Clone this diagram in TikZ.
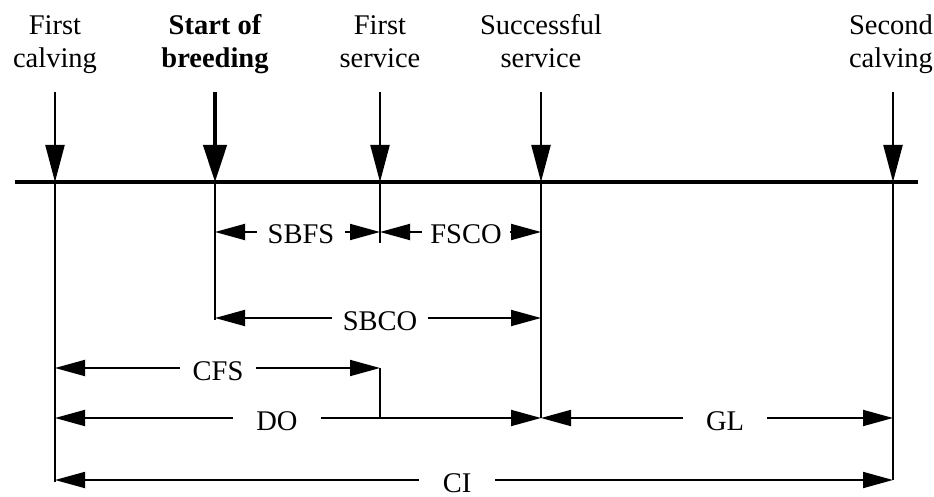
\documentclass[tikz,border=0pt]{standalone}
\usepackage{fontspec}
\setmainfont{Liberation Serif}
\usetikzlibrary{arrows.meta}
\begin{document}
\begin{tikzpicture}[x=1pt,y=-1pt,
  toplbl/.style={font=\fontsize{28.5}{33}\selectfont, align=center, inner sep=0pt, anchor=base},
  dimlbl/.style={font=\fontsize{28.5}{33}\selectfont, fill=white, inner ysep=3pt, inner xsep=11pt},
  evarrow/.style={line width=2.2pt, -{Triangle[length=37pt,width=19pt]}},
  bigarrow/.style={line width=4.5pt, -{Triangle[length=37pt,width=23pt]}},
  dim/.style={line width=1.8pt, {Triangle[length=30pt,width=16pt]}-{Triangle[length=30pt,width=16pt]}},
  vline/.style={line width=1.8pt},
  axis/.style={line width=4pt}]
\useasboundingbox (0,0) rectangle (934,497);

% event coordinates on the time axis
\coordinate (b1) at (55,182);
\coordinate (b2) at (215,182);
\coordinate (b3) at (380,182);
\coordinate (b4) at (541,182);
\coordinate (b5) at (893,182);
\coordinate (a0) at (15,182);
\coordinate (a6) at (918,182);

% arrow starts
\coordinate (t1) at (55,92);
\coordinate (t2) at (215,92);
\coordinate (t3) at (380,92);
\coordinate (t4) at (541,92);
\coordinate (t5) at (893,92);

% event labels
\node[toplbl] (n1) at (55,68) {First\\calving};
\node[toplbl, font=\fontsize{28.5}{33}\selectfont\bfseries] (n2) at (215,68) {Start of\\breeding};
\node[toplbl] (n3) at (380,68) {First\\service};
\node[toplbl] (n4) at (541,68) {Successful\\service};
\node[toplbl] (n5) at (891,68) {Second\\calving};

% time axis
\draw[axis] (a0) -- (a6);

% event arrows
\draw[evarrow] (t1) -- (b1);
\draw[bigarrow] (t2) -- (b2);
\draw[evarrow] (t3) -- (b3);
\draw[evarrow] (t4) -- (b4);
\draw[evarrow] (t5) -- (b5);

% lower ends of vertical lines
\coordinate (v1) at (55,482);
\coordinate (v2) at (215,320);
\coordinate (v3) at (380,243);
\coordinate (v4) at (541,418);
\coordinate (v5) at (893,480);

\draw[vline] (b1) -- (v1);
\draw[vline] (b2) -- (v2);
\draw[vline] (b3) -- (v3);
\draw[vline] (b4) -- (v4);
\draw[vline] (b5) -- (v5);

% dimension line end points
\coordinate (sbfsL) at (215,232);
\coordinate (sbfsR) at (380,232);
\coordinate (fscoR) at (541,232);
\coordinate (sbcoL) at (215,318);
\coordinate (sbcoR) at (541,318);
\coordinate (cfsL) at (55,368);
\coordinate (cfsR) at (380,368);
\coordinate (doL) at (55,418);
\coordinate (doR) at (541,418);
\coordinate (cfsJ) at (380,418);
\coordinate (glR) at (893,418);
\coordinate (ciL) at (55,480);
\coordinate (ciR) at (893,480);

\draw[dim] (sbfsL) -- (sbfsR);
\draw[dim] (sbfsR) -- (fscoR);
\draw[dim] (sbcoL) -- (sbcoR);
\draw[dim] (cfsL) -- (cfsR);
\draw[vline] (cfsR) -- (cfsJ);
\draw[dim] (doL) -- (doR);
\draw[dim] (doR) -- (glR);
\draw[dim] (ciL) -- (ciR);

% dimension labels
\node[dimlbl] (lsbfs) at (301,234) {SBFS};
\node[dimlbl, inner xsep=8pt] (lfsco) at (466,234) {FSCO};
\node[dimlbl] (lsbco) at (380,321) {SBCO};
\node[dimlbl, inner xsep=13pt] (lcfs) at (218,371) {CFS};
\node[dimlbl, inner xsep=23pt] (ldo) at (277,421) {DO};
\node[dimlbl, inner xsep=23pt] (lgl) at (725,421) {GL};
\node[dimlbl, inner xsep=24pt] (lci) at (457,483) {CI};
\end{tikzpicture}
\end{document}
